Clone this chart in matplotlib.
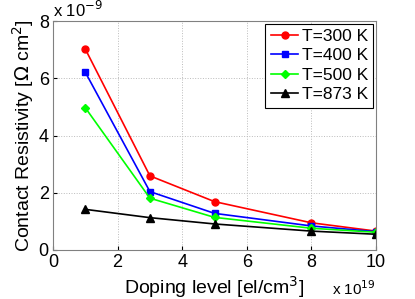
import numpy as np
import matplotlib
matplotlib.use('Agg')
import matplotlib.pyplot as plt

plt.rcParams['font.family'] = ['Liberation Sans', 'DejaVu Sans']

# Doping level (x 1e19 el/cm^3)
doping = [1, 3, 5, 8, 10]

# Contact resistivity (x 1e-9 Ohm cm^2)
rho_300 = [7.02, 2.59, 1.69, 0.95, 0.66]
rho_400 = [6.21, 2.04, 1.28, 0.84, 0.64]
rho_500 = [4.97, 1.81, 1.14, 0.76, 0.62]
rho_873 = [1.42, 1.13, 0.91, 0.66, 0.55]

fig = plt.figure(figsize=(4.15, 2.99), dpi=100)
ax = fig.add_axes([53/415, 1 - 250/299, 323/415, 229/299])

ax.plot(doping, rho_300, '-o', color='red', ms=5, lw=1.2, label='T=300 K')
ax.plot(doping, rho_400, '-s', color='blue', ms=4.5, lw=1.2, label='T=400 K')
ax.plot(doping, rho_500, '-D', color='#00ff00', ms=4.5, lw=1.2, label='T=500 K')
ax.plot(doping, rho_873, '-^', color='black', ms=5.5, lw=1.2, label='T=873 K')

ax.set_xlim(0, 10)
ax.set_ylim(0, 8)
ax.set_xticks([0, 2, 4, 6, 8, 10])
ax.set_yticks([0, 2, 4, 6, 8])
ax.grid(True, linestyle=':', color='#bbbbbb', lw=0.7)
ax.tick_params(direction='in', labelsize=13, length=3, pad=3)
for s in ax.spines.values():
    s.set_color('#808080')

ax.set_xlabel('Doping level [el/cm$^3$]', fontsize=14, labelpad=2)
ax.set_ylabel(r'Contact Resistivity [$\Omega$ cm$^2$]', fontsize=14, labelpad=2)

ax.text(0.0, 1.005, r'x 10$^{-9}$', transform=ax.transAxes, fontsize=12, ha='left', va='bottom')
ax.text(1.0, -0.17, r'x 10$^{19}$', transform=ax.transAxes, fontsize=11, ha='right', va='center')

leg = ax.legend(loc='upper right', fontsize=12.5, fancybox=False, framealpha=1,
                edgecolor='black', borderaxespad=0.15, handlelength=1.6,
                handletextpad=0.2, labelspacing=0.25, borderpad=0.3)
leg.get_frame().set_linewidth(0.8)

fig.savefig('out.png', dpi=100)
